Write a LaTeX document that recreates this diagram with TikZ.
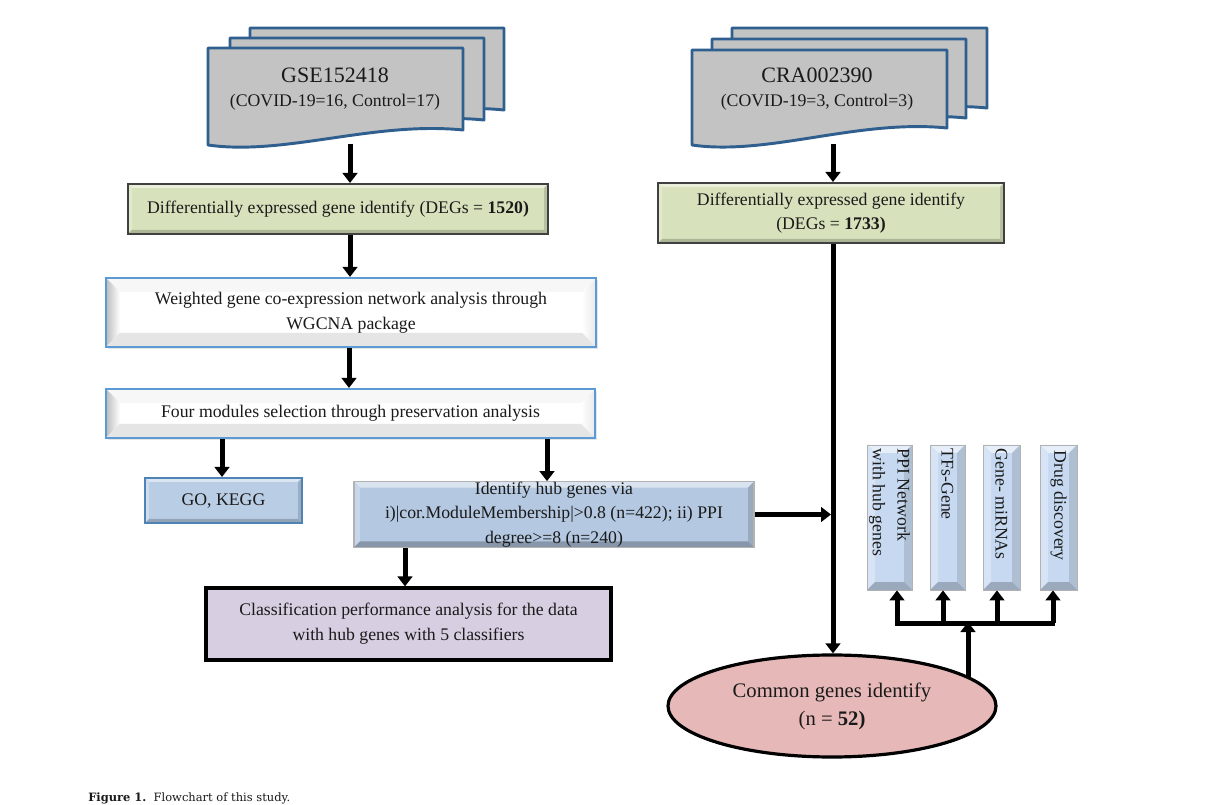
\documentclass[tikz,border=0pt]{standalone}
\usepackage{fontspec}
\setmainfont{Liberation Serif}
\newfontfamily\capfont{DejaVu Serif}
\usetikzlibrary{arrows.meta,calc,shadows,backgrounds,shapes.geometric}

\definecolor{sheetgray}{HTML}{C3C3C3}
\definecolor{sheetblue}{HTML}{2E5F8F}
\definecolor{deggreen}{HTML}{D7E2BC}
\definecolor{wborder}{HTML}{5B9BD5}
\definecolor{hubblue}{HTML}{B4C8E1}
\definecolor{goblue}{HTML}{B9CDE5}
\definecolor{classpurple}{HTML}{D8CEE2}
\definecolor{commonpink}{HTML}{E6B9B8}
\definecolor{vblue}{HTML}{C6D9F1}
\definecolor{inkc}{HTML}{1A1A1A}

% one unit = one pixel of the 1211 x 805 canvas, y grows downwards
\newcommand\pxu{0.75pt}

\tikzset{
  arr/.style={line width=3.75pt, -{Triangle[width=11pt,length=7.5pt]}},
  barline/.style={line width=3.75pt},
  box/.style={rectangle, inner sep=0pt, align=center, text=inkc},
  % raised-bevel faces: width, top, left, right, bottom
  bevel/.style n args={5}{path picture={
    \coordinate (bvnw) at (path picture bounding box.north west);
    \coordinate (bvne) at (path picture bounding box.north east);
    \coordinate (bvsw) at (path picture bounding box.south west);
    \coordinate (bvse) at (path picture bounding box.south east);
    \path[#2] (bvnw) -- (bvne) -- ($(bvne)+(-#1,#1)$) -- ($(bvnw)+(#1,#1)$) -- cycle;
    \path[#3] (bvnw) -- ($(bvnw)+(#1,#1)$) -- ($(bvsw)+(#1,-#1)$) -- (bvsw) -- cycle;
    \path[#4] (bvne) -- ($(bvne)+(-#1,#1)$) -- ($(bvse)+(-#1,-#1)$) -- (bvse) -- cycle;
    \path[#5] (bvsw) -- (bvse) -- ($(bvse)+(-#1,-#1)$) -- ($(bvsw)+(#1,-#1)$) -- cycle;
  }},
  sheet/.style={fill=sheetgray, draw=sheetblue, line width=2.2pt, line join=round},
  degbox/.style={box, fill=deggreen, draw=black!75, line width=1.5pt,
    bevel={4}{fill=deggreen!55!white}{fill=deggreen!75!white}{fill=deggreen!85!black}{fill=deggreen!80!black}},
  wgbox/.style={box, fill=white, draw=wborder, line width=1.6pt,
    drop shadow={opacity=0.2, shadow xshift=1.2pt, shadow yshift=-1.5pt},
    bevel={14}{fill=black!3}{left color=black!26,right color=white}{left color=white,right color=black!9}{fill=black!10}},
  gobox/.style={box, fill=goblue, draw=wborder!85!black, line width=1.5pt,
    bevel={4}{fill=goblue!50!white}{fill=goblue!70!white}{fill=goblue!85!black}{fill=goblue!80!black}},
  hubbox/.style={box, fill=hubblue, draw=black!30, line width=0.8pt,
    bevel={6}{fill=hubblue!50!white}{fill=hubblue!75!white}{fill=hubblue!85!black}{fill=hubblue!75!black}},
  vbox/.style={box, fill=vblue, draw=black!30, line width=0.6pt,
    bevel={8}{fill=vblue!45!white}{fill=vblue!70!white}{fill=vblue!88!black}{fill=vblue!78!black}},
  classbox/.style={box, fill=classpurple, draw=black, line width=2.4pt},
  commonbox/.style={ellipse, inner sep=0pt, align=center, text=inkc, fill=commonpink, draw=black, line width=2.4pt},
  vtext/.style={rotate=-90, anchor=west, align=left, text=inkc, inner sep=0pt},
  halo/.style={fill=white, drop shadow={opacity=0.22, shadow xshift=1.2pt, shadow yshift=-1.5pt}},
}

% stacked document sheet with a wavy lower edge: x1, top, x2, bottom-left, bottom-right
\newcommand\docsheet[5]{%
  \filldraw[sheet] (#1,#2) -- (#3,#2) -- (#3,#5)
    .. controls ({#1+0.65*(#3-#1)},{#5-9}) and ({#1+0.3*(#3-#1)},{#4+11}) .. (#1,#4) -- cycle;}

\begin{document}
\begin{tikzpicture}[x=0.75pt, y=-0.75pt, font=\fontsize{13.3}{18.5}\selectfont]
\useasboundingbox (0,0) rectangle (1211,805);
\fill[white] (0,0) rectangle (1211,805);

% ---- data sets
\docsheet{250}{28}{504}{125}{110}
\docsheet{230}{38}{484}{135}{120}
\docsheet{208}{48}{463}{145}{130}
\node[text=inkc, font=\fontsize{16.5}{18}\selectfont] (gse) at (335,75) {GSE152418};
\node[text=inkc] (gsesub) at (335,102) {(COVID-19=16, Control=17)};
\coordinate (gsebot) at (350,144);

\docsheet{732}{28}{987}{124}{108}
\docsheet{712}{39}{966}{134}{118}
\docsheet{692}{50}{947}{145}{128}
\node[text=inkc, font=\fontsize{16.5}{18}\selectfont] (cra) at (817,75) {CRA002390};
\node[text=inkc] (crasub) at (817,102) {(COVID-19=3, Control=3)};
\coordinate (crabot) at (833,144);

% ---- left branch
\node[degbox, minimum width=420*\pxu, minimum height=50*\pxu] (deg1) at (338,209)
  {Differentially expressed gene identify (DEGs = \textbf{1520)}};
\node[wgbox, minimum width=490*\pxu, minimum height=69*\pxu] (wgcna) at (351,312.5)
  {Weighted gene co-expression network analysis through\\WGCNA package};
\node[wgbox, minimum width=489*\pxu, minimum height=49*\pxu] (four) at (350.5,413.5)
  {Four modules selection through preservation analysis};
\node[gobox, minimum width=157*\pxu, minimum height=45*\pxu] (go) at (223.5,500.5) {GO, KEGG};
\node[hubbox, minimum width=400*\pxu, minimum height=65*\pxu] (hub) at (554,514.5)
  {Identify hub genes via\\i)|cor.ModuleMembership|>0.8 (n=422); ii) PPI\\degree>=8 (n=240)};
\node[classbox, minimum width=405*\pxu, minimum height=72*\pxu] (class) at (408.5,624)
  {Classification performance analysis for the data\\with hub genes with 5 classifiers};

% ---- right branch
\node[degbox, minimum width=346*\pxu, minimum height=60*\pxu] (deg2) at (831,213)
  {Differentially expressed gene identify\\(DEGs = \textbf{1733)}};
\node[commonbox, minimum width=328*\pxu, minimum height=102*\pxu,
      font=\fontsize{15.5}{21}\selectfont] (common) at (832,706)
  {Common genes identify\\(n = \textbf{52)}};

\node[vbox, minimum width=45*\pxu, minimum height=145*\pxu] (ppi) at (889.5,517.5) {};
\node[vbox, minimum width=35*\pxu, minimum height=145*\pxu] (tfs) at (947.5,517.5) {};
\node[vbox, minimum width=37*\pxu, minimum height=145*\pxu] (mirna) at (1001.5,517.5) {};
\node[vbox, minimum width=37*\pxu, minimum height=145*\pxu] (drug) at (1058.5,517.5) {};
\node[vtext] (ppit) at ($(ppi.north)+(0,4)$) {PPI Network\\with hub genes};
\node[vtext] (tfst) at ($(tfs.north)+(0,4)$) {TFs-Gene};
\node[vtext] (mirnat) at ($(mirna.north)+(0,4)$) {Gene- miRNAs};
\node[vtext] (drugt) at ($(drug.north)+(0,6)$) {Drug discovery};

% ---- white raised frames behind some boxes
\begin{scope}[on background layer]
  \foreach \b in {deg1,deg2,go,hub}
    \fill[halo] ($(\b.north west)+(-6,-6)$) rectangle ($(\b.south east)+(6,6)$);
\end{scope}

% ---- connectors
\coordinate (mainx) at (833,0);
\coordinate (junc) at (968,623);
\draw[arr] (gsebot) -- (gsebot |- deg1.north);
\draw[arr] (gsebot |- deg1.south) -- (gsebot |- wgcna.north);
\draw[arr] (349,0 |- wgcna.south) -- (349,0 |- four.north);
\draw[arr] (222,0 |- four.south) -- (222,0 |- go.north);
\draw[arr] (547,0 |- four.south) -- (547,0 |- hub.north);
\draw[arr] (405,0 |- hub.south) -- (405,0 |- class.north);
\draw[arr] (crabot) -- (crabot |- deg2.north);
\draw[arr] (mainx |- deg2.south) -- (mainx |- common.north);
\draw[arr] (hub.east) -- ($(hub.east -| mainx)+(-2,0)$);
\draw[arr] (common.12 -| junc) -- ($(junc)+(0,-1)$);
\draw[barline] (895,623) -- (1055,623);
\foreach \xx/\b in {897/ppi, 943/tfs, 997/mirna, 1053/drug}
  \draw[arr] (\xx,623) -- (\xx,0 |- \b.south);

% ---- caption
\node[anchor=west, inner sep=0pt, text=inkc, font=\capfont\fontsize{8.6}{10}\selectfont] (caption) at (88,798)
  {\textbf{Figure 1.}\ \ Flowchart of this study.};
\end{tikzpicture}
\end{document}
